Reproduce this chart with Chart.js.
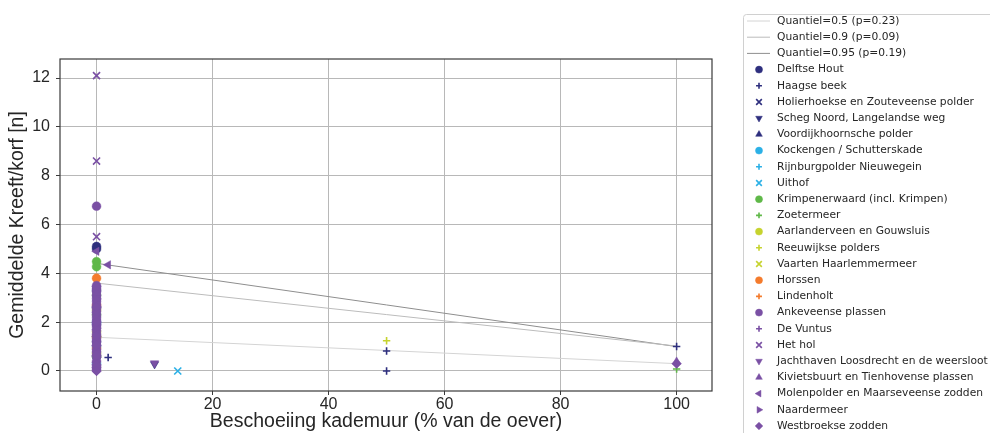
<!DOCTYPE html>
<html>
<head>
<meta charset="utf-8">
<script src="https://cdn.jsdelivr.net/npm/chart.js@4.4.1/dist/chart.umd.min.js"></script>
<style>
  html, body { margin: 0; padding: 0; background: #fff; }
  #wrap { width: 990px; height: 433px; }
</style>
</head>
<body>
<div id="wrap"><canvas id="myChart" width="990" height="433"></canvas></div>
<script>
// axis ticks
const xTicks = [0, 20, 40, 60, 80, 100];
const yTicks = [0, 2, 4, 6, 8, 10, 12];

// quantile regression lines (value at 0% and at 100%)
const quantLabels = ['Quantiel=0.5 (p=0.23)', 'Quantiel=0.9 (p=0.09)', 'Quantiel=0.95 (p=0.19)'];
const quantStart = [1.38, 3.6, 4.41];
const quantEnd = [0.3, 1.02, 1.0];
const quantColors = ['#d4d4d4', '#bcbcbc', '#8e8e8e'];

// [beschoeiing %, kreeft/korf] per location
const delftseHout = [[0, 5.1], [0, 5.0], [0, 3.3], [0, 2.6], [0, 1.9], [0, 1.2], [0, 0.6]];
const haagseBeek = [[0, 2.9], [0, 2.2], [0, 1.5], [0, 0.9], [2, 0.55], [50, 0.82], [50, 0], [100, 1.0]];
const holierhoekse = [[0, 3.0], [0, 1.8], [0, 1.1], [0, 0.4]];
const schegNoord = [[10, 0.28], [0, 1.3], [0, 0.7]];
const voordijkhoornsche = [[0, 2.4], [0, 1.6], [0, 0.2]];
const kockengen = [[0, 2.0], [0, 1.0], [0, 0.3]];
const rijnburgpolder = [[0, 1.7], [0, 0.5]];
const uithof = [[14, 0], [0, 0.8]];
const krimpenerwaard = [[0, 4.48], [0, 4.27], [0, 3.1], [0, 2.3], [0, 1.4], [0, 0.6]];
const zoetermeer = [[100, 0.08], [0, 1.2], [0, 0.3]];
const aarlanderveen = [[0, 0.73], [0, 2.5], [0, 1.6]];
const reeuwijkse = [[50, 1.24], [0, 2.2], [0, 0.9]];
const vaartenHaarlemmermeer = [[0, 0.45], [0, 1.9]];
const horssen = [[0, 3.8], [0, 1.4], [0, 0.94], [0, 2.7]];
const lindenholt = [[0, 1.35], [0, 0.98], [0, 2.0]];
const ankeveense = [[0, 6.75], [0, 3.5], [0, 3.38], [0, 3.25], [0, 3.1], [0, 2.97], [0, 2.85], [0, 2.7],
  [0, 2.58], [0, 2.45], [0, 2.3], [0, 2.18], [0, 2.05], [0, 1.92], [0, 1.8], [0, 1.65], [0, 1.5],
  [0, 1.32], [0, 1.2], [0, 1.05], [0, 0.88], [0, 0.75], [0, 0.6], [0, 0.4], [0, 0.2], [0, 0.05]];
const deVuntus = [[0, 3.4], [0, 3.05], [0, 2.8], [0, 2.5], [0, 2.1], [0, 1.85], [0, 1.55], [0, 1.25],
  [0, 1.1], [0, 0.8], [0, 0.5], [0, 0.1]];
const hetHol = [[0, 12.1], [0, 8.6], [0, 5.5], [0, 2.6], [0, 1.3], [0, 0.3]];
const jachthaven = [[10, 0.32], [0, 3.0], [0, 1.9], [0, 0.7], [0, 0]];
const kivietsbuurt = [[100, 0.38], [0, 3.2], [0, 2.2], [0, 0.9], [0, 0.15]];
const molenpolder = [[2, 4.35], [0, 4.9], [0, 2.4], [0, 1.7], [0, 0.35]];
const naardermeer = [[0, 2.95], [0, 1.75], [0, 0.55]];
const westbroekse = [[0, 3.45], [0, 2.62], [0, 2.0], [0, 1.42], [0, 1.05], [0, 0.65], [0, 0.25], [0, 0.15],
  [0, 0], [100, 0.3]];

const seriesNames = [
  'Delftse Hout', 'Haagse beek', 'Holierhoekse en Zouteveense polder', 'Scheg Noord, Langelandse weg',
  'Voordijkhoornsche polder', 'Kockengen / Schutterskade', 'Rijnburgpolder Nieuwegein', 'Uithof',
  'Krimpenerwaard (incl. Krimpen)', 'Zoetermeer', 'Aarlanderveen en Gouwsluis', 'Reeuwijkse polders',
  'Vaarten Haarlemmermeer', 'Horssen', 'Lindenholt', 'Ankeveense plassen', 'De Vuntus', 'Het hol',
  'Jachthaven Loosdrecht en de weersloot', 'Kivietsbuurt en Tienhovense plassen',
  'Molenpolder en Maarseveense zodden', 'Naardermeer', 'Westbroekse zodden'
];
const seriesPoints = [
  delftseHout, haagseBeek, holierhoekse, schegNoord, voordijkhoornsche, kockengen, rijnburgpolder, uithof,
  krimpenerwaard, zoetermeer, aarlanderveen, reeuwijkse, vaartenHaarlemmermeer, horssen, lindenholt,
  ankeveense, deVuntus, hetHol, jachthaven, kivietsbuurt, molenpolder, naardermeer, westbroekse
];

const navy = '#2e2f7e', sky = '#2bb0e6', green = '#5fb848', lime = '#c6d32e', orange = '#f47b2c', purple = '#7a50a4';
const seriesColors = [navy, navy, navy, navy, navy, sky, sky, sky, green, green, lime, lime, lime,
  orange, orange, purple, purple, purple, purple, purple, purple, purple, purple];
const seriesMarkers = ['o', '+', 'x', 'v', '^', 'o', '+', 'x', 'o', '+', 'o', '+', 'x',
  'o', '+', 'o', '+', 'x', 'v', '^', '<', '>', 'D'];

const markerStyle = {
  'o': { pointStyle: 'circle', rotation: 0, radius: 4.4, border: 0.5 },
  '+': { pointStyle: 'cross', rotation: 0, radius: 3.7, border: 1.6 },
  'x': { pointStyle: 'crossRot', rotation: 0, radius: 5, border: 1.6 },
  'v': { pointStyle: 'triangle', rotation: 180, radius: 4.8, border: 0.5 },
  '^': { pointStyle: 'triangle', rotation: 0, radius: 4.8, border: 0.5 },
  '<': { pointStyle: 'triangle', rotation: 270, radius: 4.8, border: 0.5 },
  '>': { pointStyle: 'triangle', rotation: 90, radius: 4.8, border: 0.5 },
  'D': { pointStyle: 'rectRot', rotation: 0, radius: 4.8, border: 0.5 }
};

const datasets = [];
quantLabels.forEach((label, i) => {
  datasets.push({
    label: label,
    data: [{ x: 0, y: quantStart[i] }, { x: 100, y: quantEnd[i] }],
    showLine: true,
    borderColor: quantColors[i],
    backgroundColor: quantColors[i],
    borderWidth: 1,
    pointRadius: 0,
    order: 100
  });
});
seriesNames.forEach((name, i) => {
  const m = markerStyle[seriesMarkers[i]];
  datasets.push({
    label: name,
    data: seriesPoints[i].map(p => ({ x: p[0], y: p[1] })),
    backgroundColor: seriesColors[i],
    borderColor: seriesColors[i],
    pointStyle: m.pointStyle,
    rotation: m.rotation,
    pointRadius: m.radius,
    pointBorderWidth: m.border,
    order: 50 - i
  });
});

// axes frame (all four sides)
const frame = {
  id: 'frame',
  afterDraw(chart) {
    const { ctx, chartArea: a } = chart;
    ctx.save();
    ctx.strokeStyle = '#3a3a3a';
    ctx.lineWidth = 1.2;
    ctx.strokeRect(a.left, a.top, a.right - a.left, a.bottom - a.top);
    ctx.restore();
  }
};

// legend box at the right, one row per dataset
const boxLegend = {
  id: 'boxLegend',
  afterDraw(chart) {
    const ctx = chart.ctx;
    const left = 743.5, top = 14.5, firstY = 21, rowH = 16.2;
    ctx.save();
    ctx.fillStyle = 'rgba(255,255,255,0.85)';
    ctx.strokeStyle = '#d0d0d0';
    ctx.lineWidth = 1;
    ctx.beginPath();
    ctx.moveTo(left + 3, top);
    ctx.lineTo(1000, top);
    ctx.lineTo(1000, 440);
    ctx.lineTo(left, 440);
    ctx.lineTo(left, top + 3);
    ctx.quadraticCurveTo(left, top, left + 3, top);
    ctx.fill();
    ctx.stroke();

    ctx.font = "10.7px 'DejaVu Sans', sans-serif";
    ctx.textBaseline = 'middle';
    chart.data.datasets.forEach((ds, i) => {
      const y = firstY + i * rowH;
      if (ds.showLine) {
        ctx.strokeStyle = ds.borderColor;
        ctx.lineWidth = 1;
        ctx.beginPath();
        ctx.moveTo(747, y);
        ctx.lineTo(770, y);
        ctx.stroke();
      } else {
        ctx.fillStyle = ds.backgroundColor;
        ctx.strokeStyle = ds.borderColor;
        ctx.lineWidth = ds.pointBorderWidth;
        Chart.helpers.drawPoint(ctx, {
          pointStyle: ds.pointStyle,
          rotation: ds.rotation,
          radius: ds.pointRadius * 0.8,
          borderWidth: ds.pointBorderWidth
        }, 759, y);
      }
      ctx.fillStyle = '#262626';
      ctx.fillText(ds.label, 777, y);
    });
    ctx.restore();
  }
};

const ctx = document.getElementById('myChart').getContext('2d');
const myChart = new Chart(ctx, {
  type: 'scatter',
  data: { datasets: datasets },
  plugins: [frame, boxLegend],
  options: {
    responsive: false,
    animation: false,
    layout: { padding: { left: 0, top: 59, right: 278, bottom: 0 } },
    plugins: {
      legend: { display: false },
      tooltip: { enabled: false }
    },
    scales: {
      x: {
        type: 'linear',
        min: -6.3,
        max: 106.1,
        afterBuildTicks: s => { s.ticks = xTicks.map(v => ({ value: v })); },
        afterFit: s => { s.height = 42; },
        border: { display: false },
        grid: { color: '#b8b8b8', lineWidth: 1, tickColor: '#3a3a3a', tickLength: 4 },
        ticks: { font: { size: 16 }, color: '#262626', padding: 0, maxRotation: 0 },
        title: {
          display: true,
          text: 'Beschoeiing kademuur (% van de oever)',
          font: { size: 19.5 },
          color: '#262626',
          padding: 0
        }
      },
      y: {
        type: 'linear',
        min: -0.82,
        max: 12.78,
        afterBuildTicks: s => { s.ticks = yTicks.map(v => ({ value: v })); },
        afterFit: s => { s.width = 60; },
        border: { display: false },
        grid: { color: '#b8b8b8', lineWidth: 1, tickColor: '#3a3a3a', tickLength: 4 },
        ticks: { font: { size: 16 }, color: '#262626', padding: 6 },
        title: {
          display: true,
          text: 'Gemiddelde Kreeft/korf [n]',
          font: { size: 19.5 },
          color: '#262626',
          padding: { top: 6, bottom: 0 }
        }
      }
    }
  }
});
</script>
</body>
</html>
